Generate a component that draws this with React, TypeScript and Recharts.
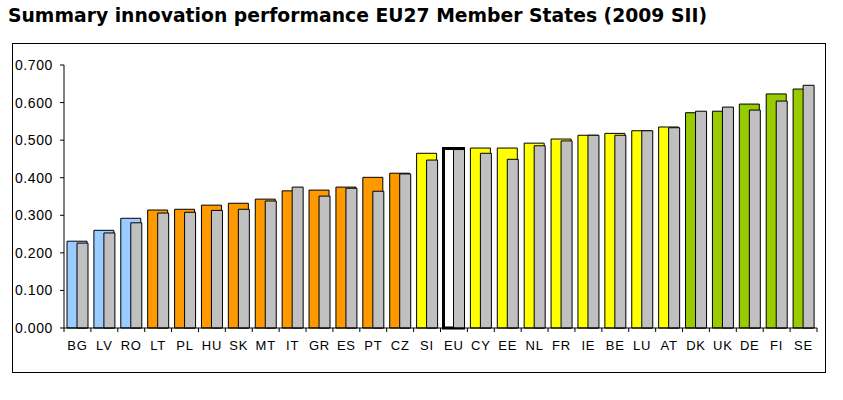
import { BarChart, Bar, XAxis, YAxis, Cell } from "recharts";

const countries = ["BG", "LV", "RO", "LT", "PL", "HU", "SK", "MT", "IT", "GR", "ES", "PT", "CZ", "SI", "EU", "CY", "EE", "NL", "FR", "IE", "BE", "LU", "AT", "DK", "UK", "DE", "FI", "SE"];
const sii2009 = [0.231, 0.26, 0.292, 0.314, 0.316, 0.327, 0.332, 0.343, 0.365, 0.367, 0.375, 0.401, 0.412, 0.465, 0.478, 0.479, 0.479, 0.492, 0.503, 0.513, 0.518, 0.525, 0.535, 0.573, 0.577, 0.596, 0.623, 0.636];
const siiPrevious = [0.226, 0.253, 0.28, 0.306, 0.308, 0.313, 0.316, 0.338, 0.375, 0.351, 0.372, 0.364, 0.41, 0.447, 0.475, 0.465, 0.449, 0.485, 0.498, 0.513, 0.513, 0.525, 0.533, 0.577, 0.588, 0.58, 0.604, 0.646];
const groups = ["catching", "catching", "catching", "moderate", "moderate", "moderate", "moderate", "moderate", "moderate", "moderate", "moderate", "moderate", "moderate", "follower", "eu", "follower", "follower", "follower", "follower", "follower", "follower", "follower", "follower", "leader", "leader", "leader", "leader", "leader"];
const yTicks = [0, 0.1, 0.2, 0.3, 0.4, 0.5, 0.6, 0.7];

const groupFill: Record<string, string> = {
  catching: "#99CCFF",
  moderate: "#FF9900",
  follower: "#FFFF00",
  leader: "#99CC00",
  eu: "#FFFFFF",
};

const data = countries.map((c, i) => ({ country: c, sii: sii2009[i], prev: siiPrevious[i], group: groups[i] }));

const labelFont = "'Liberation Sans', Arial, sans-serif";

function CountryTick(props: any) {
  const { x, y, payload, index } = props;
  const half = payload?.offset ?? 13.4;
  return (
    <g>
      {index === 0 && <line x1={x - half} x2={x - half} y1={y - 8} y2={y - 4} stroke="#000" />}
      <line x1={x + half} x2={x + half} y1={y - 8} y2={y - 4} stroke="#000" />
      <text x={x} y={y + 14} textAnchor="middle" fontSize={13} letterSpacing={0.8} fill="#000" fontFamily={labelFont}>
        {payload.value}
      </text>
    </g>
  );
}

export default function App() {
  return (
    <div style={{ position: "absolute", left: 0, top: 0, width: 843, height: 400, background: "#fff" }}>
      <svg width={843} height={40} style={{ position: "absolute", left: 0, top: 0 }}>
        <text x={8} y={22} fontSize={19} fontWeight="bold" fontFamily="'DejaVu Sans', sans-serif" textLength={699} lengthAdjust="spacingAndGlyphs">
          Summary innovation performance EU27 Member States (2009 SII)
        </text>
      </svg>
      <div style={{ position: "absolute", left: 12, top: 43, width: 814, height: 330, border: "1px solid #000", boxSizing: "border-box" }} />
      <div style={{ position: "absolute", left: 0, top: 0 }}>
        <BarChart width={843} height={400} data={data} margin={{ top: 65, right: 26, bottom: 42, left: 14 }} barGap={-10}>
          <XAxis
            dataKey="country"
            interval={0}
            height={30}
            tickLine={false}
            axisLine={{ stroke: "#000" }}
            tick={<CountryTick />}
          />
          <YAxis
            domain={[0, 0.7]}
            ticks={yTicks}
            width={50}
            tickSize={4}
            tickMargin={7}
            axisLine={{ stroke: "#000" }}
            tickLine={{ stroke: "#000" }}
            tickFormatter={(v: number) => v.toFixed(3)}
            tick={{ fontSize: 14, fill: "#000", fontFamily: labelFont, letterSpacing: 0.6 }}
          />
          <Bar dataKey="sii" barSize={20} isAnimationActive={false} stroke="#000" strokeWidth={1}>
            {data.map((d) => (
              <Cell key={d.country} fill={groupFill[d.group]} strokeWidth={d.group === "eu" ? 3 : 1} />
            ))}
          </Bar>
          <Bar dataKey="prev" barSize={11} fill="#C0C0C0" stroke="#000" strokeWidth={1} isAnimationActive={false} />
        </BarChart>
      </div>
    </div>
  );
}
